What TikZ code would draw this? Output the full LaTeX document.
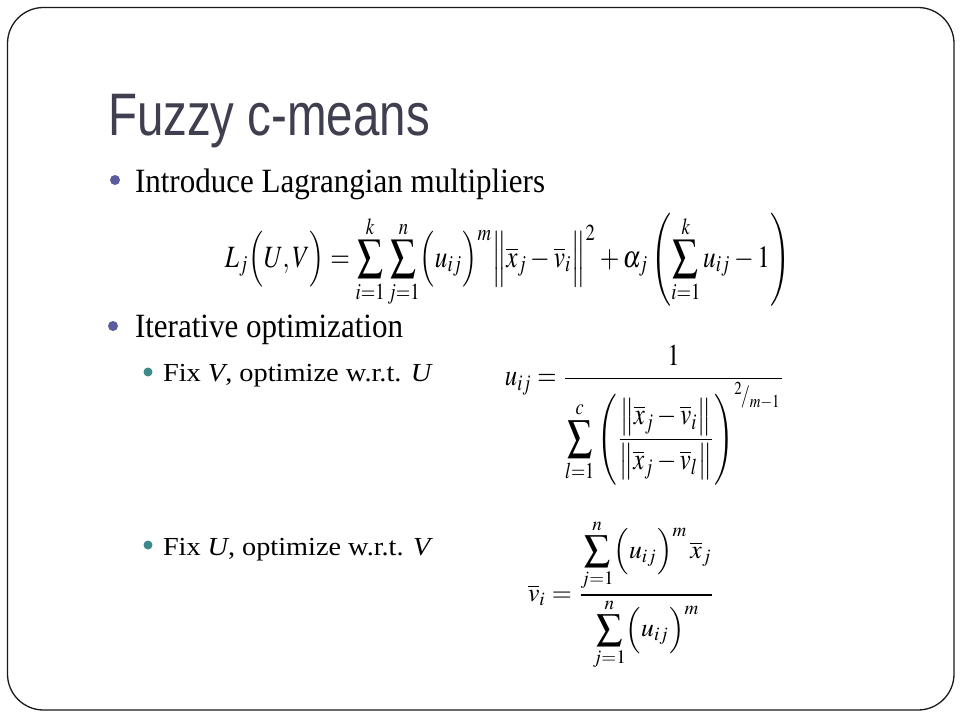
\documentclass[tikz,border=0pt]{standalone}
\usepackage{mathptmx}
\usepackage{graphicx}
\usepackage[no-math]{fontspec}
\setmainfont{Liberation Serif}
\newfontfamily\titlefont{Liberation Sans}
\definecolor{titlegray}{HTML}{3F3F50}
\definecolor{bulletmain}{HTML}{5A5C9E}
\definecolor{bulletsub}{HTML}{3D8A8A}
\definecolor{framecol}{HTML}{1A1A1A}
\tikzset{
  txt/.style={anchor=base west, inner sep=0pt, outer sep=0pt},
  formula/.style={anchor=center, inner sep=0pt, outer sep=0pt},
  mainbul/.style={fill=bulletmain},
  subbul/.style={fill=bulletsub}
}
\newcommand{\mainsz}{\fontsize{34}{40}\selectfont}
\newcommand{\subsz}{\fontsize{26}{32}\selectfont}
\begin{document}
\begin{tikzpicture}[x=1pt,y=-1pt]
\useasboundingbox (0,0) rectangle (960,720);
\fill[white] (0,0) rectangle (960,720);
\draw[framecol, line width=1.3pt, rounded corners=36pt] (7.5,7.5) rectangle (954,710);

\node[txt, text=titlegray] (title) at (108,135)
  {\resizebox{322pt}{\height}{\titlefont\fontsize{60}{60}\selectfont Fuzzy c-means}};

\fill[mainbul] (115,180) circle (5);
\node[txt] (b1) at (135,192) {\resizebox{410pt}{\height}{\mainsz Introduce Lagrangian multipliers}};

\node[formula] (eq1) at (507.5,260) {\resizebox*{565pt}{94pt}{$\displaystyle
  L_j\Bigl(U,V\Bigr)= \sum_{i=1}^{k}\sum_{j=1}^{n}\Bigl(u_{ij}\Bigr)^{m}
  \Bigl\|\overline{x}_j-\overline{v}_i\Bigr\|^{2}+\alpha_j\left(\sum_{i=1}^{k}u_{ij}-1\right)$}};

\fill[mainbul] (113,326) circle (5);
\node[txt] (b2) at (135,337) {\resizebox{268pt}{\height}{\mainsz Iterative optimization}};

\fill[subbul] (148,372) circle (4.5);
\node[txt] (s1) at (163,381) {\resizebox{270pt}{\height}{\subsz Fix \textit{V}, optimize w.r.t. \textit{U}}};

\node[formula] (eq2) at (645,415) {\resizebox*{280pt}{140pt}{$\displaystyle
  u_{ij} = \frac{1}{\displaystyle\sum_{l=1}^{c}\left(\frac{\left\|\overline{x}_j-\overline{v}_i\right\|}{\left\|\overline{x}_j-\overline{v}_l\right\|}\right)^{{}^{2}\!/_{m-1}}}$}};

\fill[subbul] (148,545) circle (4.5);
\node[txt] (s2) at (163,555) {\resizebox{270pt}{\height}{\subsz Fix \textit{U}, optimize w.r.t. \textit{V}}};

\node[formula] (eq3) at (621.5,595) {\resizebox*{187pt}{150pt}{$\displaystyle
  \overline{v}_i = \frac{\displaystyle\sum_{j=1}^{n}\Bigl(u_{ij}\Bigr)^{m}\,\overline{x}_j}{\displaystyle\sum_{j=1}^{n}\Bigl(u_{ij}\Bigr)^{m}}$}};
\end{tikzpicture}
\end{document}
